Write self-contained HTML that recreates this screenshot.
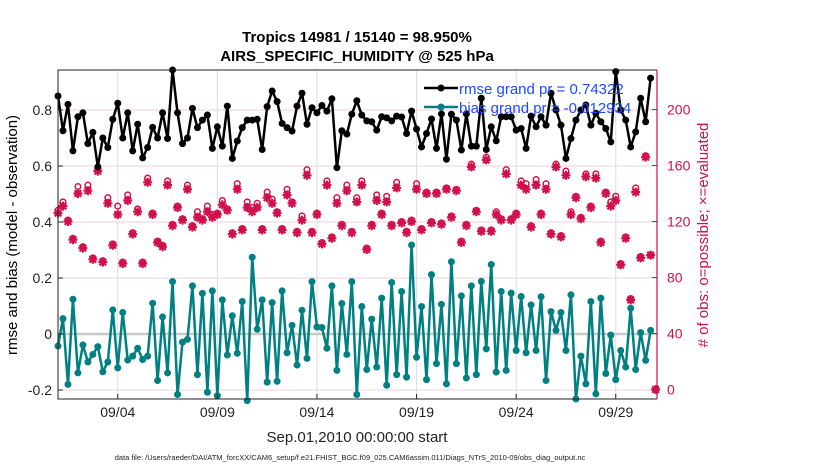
<!DOCTYPE html>
<html><head><meta charset="utf-8"><style>
html,body{margin:0;padding:0;background:#fff;}
svg{display:block;font-family:"Liberation Sans",Arial,sans-serif;}
</style></head><body>
<svg id="chart" width="830" height="470" viewBox="0 0 830 470">
<text x="357" y="42" text-anchor="middle" font-size="15" font-weight="bold">Tropics 14981 / 15140 = 98.950%</text>
<text x="357" y="61" text-anchor="middle" font-size="15" font-weight="bold">AIRS_SPECIFIC_HUMIDITY @ 525 hPa</text>
<g id="grid"></g>
<g id="marks"></g>
<g id="axes"></g>
<text transform="translate(17,235) rotate(-90)" text-anchor="middle" font-size="15">rmse and bias (model - observation)</text>
<text transform="translate(708,235) rotate(-90)" text-anchor="middle" font-size="15" fill="#d0104c"># of obs: o=possible; ×=evaluated</text>
<text x="357" y="442" text-anchor="middle" font-size="15" fill="#222">Sep.01,2010 00:00:00 start</text>
<text x="350" y="460" text-anchor="middle" font-size="7.5" fill="#222">data file: /Users/raeder/DAI/ATM_forcXX/CAM6_setup/f.e21.FHIST_BGC.f09_025.CAM6assim.011/Diags_NTrS_2010-09/obs_diag_output.nc</text>
<g>
<line x1="424" y1="88" x2="458" y2="88" stroke="#000" stroke-width="2.5"/><circle cx="441" cy="88" r="3.5" fill="#000"/>
<text x="459" y="94" font-size="15" fill="#1a4cff">rmse grand pr = 0.74322</text>
<line x1="424" y1="107" x2="458" y2="107" stroke="#008080" stroke-width="2.5"/><circle cx="441" cy="107" r="3.5" fill="#008080"/>
<text x="459" y="113" font-size="15" fill="#1a4cff">bias grand pr = -0.012934</text>
</g>
</svg>
<script>
const rmse=[0.85,0.726,0.82,0.654,0.776,0.79,0.68,0.72,0.597,0.70,0.666,0.767,0.824,0.70,0.79,0.654,0.749,0.629,0.666,0.738,0.70,0.79,0.698,0.943,0.79,0.68,0.70,0.806,0.737,0.764,0.782,
0.663,0.74,0.671,0.814,0.627,0.689,0.737,0.764,0.764,0.767,0.659,0.812,0.868,0.83,0.752,0.737,0.725,0.814,0.86,0.749,0.808,0.79,0.816,0.796,0.84,0.594,0.726,0.714,0.785,0.833,
0.782,0.761,0.758,0.728,0.776,0.772,0.761,0.778,0.775,0.716,0.796,0.732,0.668,0.716,0.768,0.663,0.786,0.624,0.785,0.764,0.657,0.786,0.671,0.671,0.842,0.659,0.74,0.69,0.776,0.776,
0.776,0.728,0.734,0.663,0.778,0.74,0.776,0.746,0.86,0.8,0.746,0.627,0.698,0.764,0.8,0.818,0.746,0.788,0.758,0.734,0.686,0.937,0.8,0.764,0.668,0.722,0.842,0.758,0.914];
const bias=[-0.043,0.055,-0.18,0.124,-0.139,-0.039,-0.1,-0.073,-0.045,-0.135,-0.1,0.086,-0.121,0.077,-0.093,-0.079,-0.051,-0.091,-0.079,0.11,-0.166,0.061,-0.139,0.187,-0.216,-0.029,-0.019,0.172,-0.145,0.145,-0.208,
0.154,-0.22,0.122,-0.075,0.065,-0.069,0.116,-0.238,0.274,0.017,0.122,-0.172,0.112,-0.169,0.154,-0.067,0.031,-0.111,0.085,-0.087,0.187,0.025,0.023,-0.051,0.172,-0.13,0.109,-0.073,0.187,-0.216,
0.098,-0.127,0.053,-0.118,0.128,-0.183,0.184,-0.145,0.152,-0.154,0.318,-0.083,0.098,-0.163,0.212,-0.106,0.106,-0.178,0.258,-0.106,0.136,-0.157,0.172,-0.145,0.188,-0.053,0.248,-0.136,0.152,-0.13,
0.146,-0.059,0.134,-0.067,0.104,-0.059,0.133,-0.166,0.08,0.013,0.077,-0.059,0.14,-0.232,-0.079,-0.178,0.116,-0.214,0.128,-0.141,-0.004,-0.163,-0.059,-0.118,0.092,-0.127,0.005,-0.094,0.013];
const evaluated=[126,131,120,107,140,101,142,93,156,91,133,103,125,90,135,111,127,90,148,125,105,102,146,117,130,121,143,116,123,121,127,
123,125,132,128,111,143,114,130,127,130,114,137,133,126,114,139,133,112,121,153,112,125,104,146,108,133,117,142,112,134,
146,100,117,135,125,134,117,144,119,112,120,143,114,140,119,140,118,143,123,142,105,117,159,127,113,164,113,125,121,154,
121,125,146,143,116,146,125,143,111,159,109,153,125,137,122,152,130,151,105,140,131,135,89,108,64,141,94,166,96,0];
const possible=[128,134,121,108,145,102,146,94,158,92,137,104,131,91,139,112,129,91,151,126,106,103,149,118,131,122,146,117,127,122,131,
125,126,135,129,112,147,115,134,130,133,115,141,136,127,115,143,134,113,124,157,113,126,105,149,109,137,118,146,113,137,
149,101,118,139,126,138,118,148,120,113,121,147,115,141,120,141,119,144,124,143,106,118,161,128,114,166,114,127,122,157,
122,126,149,147,117,150,126,147,112,161,110,156,127,138,123,154,131,154,106,141,134,138,90,109,65,144,95,167,96,0];
const xTickLabels=["09/04","09/09","09/14","09/19","09/24","09/29"];
const xTickDays=[3,8,13,18,23,28];
const yTicks=[-0.2,0,0.2,0.4,0.6,0.8];
const yTickLabels=["-0.2","0","0.2","0.4","0.6","0.8"];
const cTicks=[0,40,80,120,160,200];

const L=58,R=657,T=70,B=399;
const xDay=d=>58+d*19.92;
const xIdx=i=>xDay(i*0.25);
const yV=v=>334-v*280;
const yC=c=>389.5-c*1.4;
const NS="http://www.w3.org/2000/svg";
function mk(tag,attrs,parent){const e=document.createElementNS(NS,tag);for(const k in attrs)e.setAttribute(k,attrs[k]);parent.appendChild(e);return e;}
const grid=document.getElementById('grid'),marks=document.getElementById('marks'),axes=document.getElementById('axes');

yTicks.forEach((v,k)=>{
  const g=mk('line',{x1:L,x2:R,y1:yV(v),y2:yV(v),stroke:'#f3cfdc','stroke-width':1},grid);
  
  
  const t=mk('text',{x:L-6,y:yV(v)+5,'text-anchor':'end','font-size':14,fill:'#222'},axes);
  t.textContent=yTickLabels[k];
  
  
  mk('line',{x1:L,x2:L+5,y1:yV(v),y2:yV(v),stroke:'#222'},axes);
});
cTicks.forEach(c=>{
  const t=mk('text',{x:R+10,y:yC(c)+5,'font-size':14,fill:'#d0104c'},axes);
  t.textContent=String(c);
  
  
  mk('line',{x1:R-5,x2:R,y1:yC(c),y2:yC(c),stroke:'#d0104c'},axes);
});
xTickDays.forEach((d,k)=>{
  const g=mk('line',{x1:xDay(d),x2:xDay(d),y1:T,y2:B,stroke:'#dddddd','stroke-width':1},grid);
  
  
  mk('line',{x1:xDay(d),x2:xDay(d),y1:B,y2:B-5,stroke:'#222'},axes);
  const t=mk('text',{x:xDay(d),y:B+18,'text-anchor':'middle','font-size':14,fill:'#222'},axes);
  t.textContent=xTickLabels[k];
  
  
});
const zl=mk('line',{x1:L,x2:R,y1:yV(0),y2:yV(0),stroke:'#c8c8c8','stroke-width':2.5},grid);



evaluated.forEach((c,i)=>{
  const x=xIdx(i),yp=yC(possible[i]),y=yC(c),col='#d0104c';
  const ci=mk('circle',{cx:x,cy:yp,r:2.8,fill:'none',stroke:col,'stroke-width':1.5},marks);
  
  
  const s=mk('path',{d:`M${x-4.5} ${y}H${x+4.5}M${x} ${y-4.5}V${y+4.5}M${x-3.3} ${y-3.3}L${x+3.3} ${y+3.3}M${x-3.3} ${y+3.3}L${x+3.3} ${y-3.3}`,stroke:col,'stroke-width':2.2},marks);
  
  
});
function series(arr,col,name){
  const p=mk('polyline',{points:arr.map((v,i)=>xIdx(i)+','+yV(v)).join(' '),fill:'none',stroke:col,'stroke-width':2.5,'stroke-linejoin':'round'},marks);
  
  
  arr.forEach((v,i)=>{
    const c=mk('circle',{cx:xIdx(i),cy:yV(v),r:3.5,fill:col},marks);
    
    
  });
}
series(bias,'#008080','bias');
series(rmse,'#000000','rmse');

const ax=mk('path',{d:`M${R} ${T}H${L}V${B}H${R}`,fill:'none',stroke:'#222','stroke-width':1},axes);


const ra=mk('line',{x1:R,x2:R,y1:T,y2:B,stroke:'#d0104c','stroke-width':1.2},axes);


</script>
</body></html>
